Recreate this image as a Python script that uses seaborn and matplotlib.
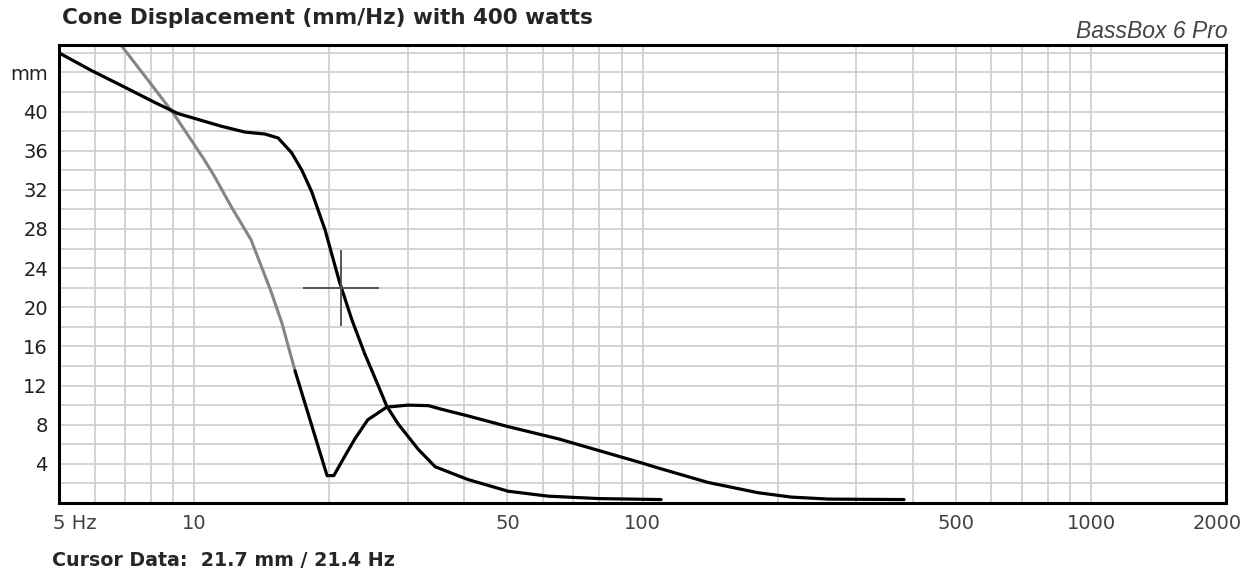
import matplotlib
matplotlib.use("Agg")
import matplotlib.pyplot as plt
import matplotlib.transforms as mtransforms
import pandas as pd
import seaborn as sns

# vented box curve (black, starts top-left)
vent_hz = [5.0, 5.9, 7.0, 8.2, 9.2, 10.2, 11.5, 13.0, 14.4, 15.4, 16.5, 17.4, 18.3, 19.6,
           21.1, 22.5, 24.0, 25.8, 26.9, 28.5, 31.6, 34.5, 40.8, 50.2, 61.6, 80.0, 110.0]
vent_mm = [46.0, 44.2, 42.5, 40.9, 39.8, 39.2, 38.5, 37.9, 37.7, 37.3, 35.8, 34.0, 31.8, 27.9,
           22.6, 18.7, 15.3, 11.9, 9.9, 8.1, 5.5, 3.7, 2.4, 1.2, 0.7, 0.45, 0.35]

# second curve, gray part at the low end
second_lo_hz = [6.87, 7.9, 9.0, 10.5, 11.1, 12.1, 13.4, 14.8, 15.7, 16.8]
second_lo_mm = [46.8, 43.2, 39.8, 35.2, 33.4, 30.3, 26.9, 21.8, 18.4, 13.5]
second_hi_hz = [16.8, 19.8, 20.5, 21.7, 22.8, 24.4, 26.9, 30.0, 33.3, 35.5, 40.8, 50.2, 65.0,
                83.6, 99.5, 108.0, 140.0, 181.0, 215.0, 260.0, 383.0]
second_hi_mm = [13.5, 2.8, 2.8, 4.8, 6.5, 8.5, 9.8, 10.0, 9.95, 9.6, 8.9, 7.8, 6.55,
                5.1, 4.1, 3.6, 2.1, 1.05, 0.6, 0.4, 0.35]

grid_hz = [6, 7, 8, 9, 10, 20, 30, 40, 50, 60, 70, 80, 90,
           100, 200, 300, 400, 500, 600, 700, 800, 900, 1000]
grid_mm = list(range(2, 47, 2))
ytick_vals = [4, 8, 12, 16, 20, 24, 28, 32, 36, 40, 44]
ytick_labels = ["4", "8", "12", "16", "20", "24", "28", "32", "36", "40", "mm"]
xtick_vals = [5, 10, 50, 100, 500, 1000, 2000]
xtick_labels = ["5 Hz", "10", "50", "100", "500", "1000", "2000"]

cursor_mark = (21.3, 22.0)
cursor_text = "Cursor Data:  21.7 mm / 21.4 Hz"
title = "Cone Displacement (mm/Hz) with 400 watts"

sns.set_style("white")
plt.rcParams["font.family"] = ["DejaVu Sans"]

W, H = 1254, 573
fig = plt.figure(figsize=(W / 100, H / 100), dpi=100)
ax = fig.add_axes([59 / W, 1 - 503 / H, (1226 - 59) / W, (503 - 45) / H])

vent = pd.DataFrame({"hz": vent_hz, "mm": vent_mm})
lo = pd.DataFrame({"hz": second_lo_hz, "mm": second_lo_mm})
hi = pd.DataFrame({"hz": second_hi_hz, "mm": second_hi_mm})

sns.lineplot(data=lo, x="hz", y="mm", ax=ax, color="#858585", lw=2.2, sort=False, estimator=None)
sns.lineplot(data=hi, x="hz", y="mm", ax=ax, color="black", lw=2.3, sort=False, estimator=None)
sns.lineplot(data=vent, x="hz", y="mm", ax=ax, color="black", lw=2.3, sort=False, estimator=None)

ax.plot([cursor_mark[0]], [cursor_mark[1]], marker="+", ms=55, mew=1.3, color="#4a4a4a")

ax.set_xscale("log")
ax.set_xlim(5, 2000)
ax.set_ylim(0, 46.8)
ax.set_xticks(xtick_vals)
ax.set_xticklabels(xtick_labels)
ax.set_xticks(grid_hz, minor=True)
ax.set_xticklabels([], minor=True)
ax.set_yticks(ytick_vals)
ax.set_yticklabels(ytick_labels)
ax.set_yticks(grid_mm, minor=True)
ax.grid(which="both", color="#d0d0d0", lw=1.3)
ax.set_axisbelow(True)
ax.tick_params(which="both", length=0)
ax.tick_params(axis="y", pad=8, labelsize=14, labelcolor="#202020")
ax.tick_params(axis="x", pad=8, labelsize=14, labelcolor="#404040")
ax.set_xlabel("")
ax.set_ylabel("")
for spine in ax.spines.values():
    spine.set_visible(True)
    spine.set_edgecolor("black")
    spine.set_linewidth(2.2)

# nudge the end labels like the original
labels = ax.get_xticklabels()
labels[0].set_transform(labels[0].get_transform() + mtransforms.ScaledTranslation(16 / 100, 0, fig.dpi_scale_trans))
labels[-1].set_transform(labels[-1].get_transform() + mtransforms.ScaledTranslation(-9 / 100, 0, fig.dpi_scale_trans))

fig.text(62 / W, 1 - 18 / H, title, fontsize=15.5, fontweight="bold", va="center", ha="left")
fig.text(1228 / W, 1 - 32 / H, "BassBox 6 Pro", fontsize=16.5, style="italic", color="#444444",
         va="center", ha="right", family=["Liberation Sans", "DejaVu Sans"])
fig.text(52 / W, 1 - 560 / H, cursor_text, fontsize=13.7, fontweight="bold", va="center", ha="left")

fig.savefig("out.png", dpi=100)
